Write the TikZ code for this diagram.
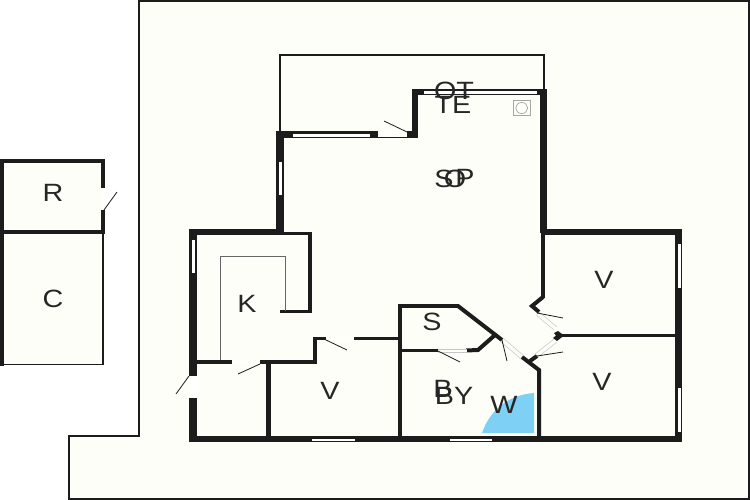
\documentclass[tikz,border=0pt]{standalone}
\usepackage{fontspec}
\setmainfont{Liberation Sans}
\definecolor{cream}{HTML}{FEFEF8}
\definecolor{wallc}{HTML}{1C1C1C}
\definecolor{pool}{HTML}{7FD0F5}
\tikzset{
  wall/.style={fill=wallc,draw=none},
  wl/.style={draw=wallc,line width=#1,line join=miter},
  wl/.default=4pt,
  winrect/.style={fill=white,draw=wallc,line width=0.5pt},
  doorgap/.style={fill=cream!50!white,draw=none},
  doorrail/.style={draw=gray!45,line width=0.5pt},
  leaf/.style={draw=wallc,line width=0.8pt},
  thin/.style={draw=wallc,line width=1.3pt},
  counter/.style={draw=gray!80!black,line width=1pt},
  lab/.style={inner sep=0pt,font=\fontsize{25}{25}\selectfont,text=black!85,xscale=1.15}
}
\begin{document}
\begin{tikzpicture}[x=1pt,y=-1pt]
\useasboundingbox (0,0) rectangle (750,500);
\fill[white] (0,0) rectangle (750,500);
% plot
\draw[fill=cream,draw=wallc,line width=1.2pt] (139,1) -- (749,1) -- (749,499) -- (69,499) -- (69,436) -- (139,436) -- cycle;
% annex
\fill[cream] (2,161) rectangle (103,364);
\draw[thin,line width=1.4pt] (103,232) -- (103,364.5) -- (2,364.5);
\fill[wall] (0,159) rectangle (105,163);
\fill[wall] (0,159) rectangle (4,366);
\fill[wall] (101,159) rectangle (105,233);
\fill[wall] (0,230) rectangle (105,233.5);
\fill[doorgap] (100.5,188) rectangle (105.5,210);
\draw[leaf] (104,210) -- (117,192);
% terrace
\draw[thin] (280,135) -- (280,55) -- (544,55) -- (544,92);
% pool
\fill[pool] (534,393) .. controls (508,395) and (490,410) .. (482,433) -- (534,433) -- cycle;
% main walls
\fill[wall] (412,89) rectangle (418,138);
\fill[wall] (412,89) rectangle (547,95);
\fill[wall] (540,89) rectangle (547,233);
\fill[wall] (541,229) rectangle (545,298);
\fill[wall] (276,131) rectangle (418,138);
\fill[wall] (276,131) rectangle (284,235);
\fill[wall] (189,229) rectangle (284,235);
\fill[wall] (278,232) rectangle (312,235);
\fill[wall] (308,232) rectangle (312,313);
\fill[wall] (280,310) rectangle (312,313);
\fill[wall] (189,229) rectangle (197,442);
\fill[wall] (189,436) rectangle (682,442);
\fill[wall] (197,360) rectangle (317,363.5);
\fill[wall] (313,337) rectangle (317,363);
\fill[wall] (313,337) rectangle (402,340);
\fill[wall] (266,363) rectangle (270.5,438);
\fill[wall] (398,304) rectangle (402,438);
\fill[wall] (398,304) rectangle (459,308);
\fill[wall] (400,349) rectangle (478,352);
\draw[wl=4pt,miter limit=2] (458,306) -- (502,340);
\draw[wl=4pt] (466,350.5) -- (478,350) -- (495,335);
\draw[wl=4pt] (522,357) -- (539,370) -- (539,438);
\draw[wl=4pt] (543,297) -- (532,306) -- (539,312);
\draw[wl=4pt] (530,361) -- (537,356);
\fill[wall] (544,229) rectangle (682,235);
\fill[wall] (675,229) rectangle (682,442);
\fill[wall] (558,334) rectangle (676,337);
\fill[wall] (558,331) -- (564,335.5) -- (557,341) -- (553,338) -- (556,335.5) -- (554,333) -- cycle;
% windows
\draw[winrect] (292,133) rectangle (370,137);
\draw[winrect] (423,90.5) rectangle (537,94);
\draw[winrect] (278,161) rectangle (282,195);
\draw[winrect] (191,239) rectangle (195.5,273);
\draw[winrect] (677,243) rectangle (681,288);
\draw[winrect] (677,387) rectangle (681,432);
\draw[winrect] (311,438) rectangle (355,441);
\draw[winrect] (449,438) rectangle (492,441);
% door gaps
\fill[doorgap] (378,131.5) rectangle (407,137.5);
\draw[leaf] (407,132) -- (384,121);
\fill[doorgap] (188.5,376) rectangle (197.5,398);
\draw[leaf] (189,376) -- (176,394);
\fill[doorgap] (232,360) rectangle (260,363.5);
\draw[leaf] (260,364) -- (238,374);
\fill[doorgap] (326,337) rectangle (354,340);
\draw[leaf] (325,339.5) -- (347,350);
\fill[doorgap] (438,349) rectangle (467,352);
\draw[doorrail] (438,349) -- (467,349) (438,352) -- (467,352);
\draw[leaf] (438,351) -- (460,362);
\draw[doorrail] (503,338) -- (524,356) (500,341) -- (521,359);
\draw[leaf] (502,340) -- (507,361);
\draw[doorrail] (539,312) -- (557,327) (536,315) -- (554,330);
\draw[leaf] (537,313) -- (563,318);
\draw[doorrail] (554,339) -- (535,354) (557,342) -- (538,357);
\draw[leaf] (537,356) -- (563,352);
% counter
\draw[counter] (220,360) -- (220,256) -- (285,256) -- (285,311);
% fixture
\draw[draw=gray!70,line width=0.7pt,fill=cream] (513.5,100.5) rectangle (530,115.5);
\draw[draw=gray!70,line width=0.7pt] (521.7,108) ellipse (6 and 5.5);
% labels
\node[lab] (lotx) at (454,90.5) {OT};
\node[lab] (lte) at (453,104.5) {TE};
\node[lab] (ls) at (444,179) {S};
\node[lab] (lo) at (455,179) {O};
\node[lab] (lp) at (465,178) {P};
\node[lab] (lr) at (53,193) {R};
\node[lab] (lc) at (53,299) {C};
\node[lab] (lk) at (247,304) {K};
\node[lab] (lv1) at (604,280) {V};
\node[lab] (lv2) at (602,382) {V};
\node[lab] (lv3) at (330,391) {V};
\node[lab] (lss) at (432,322) {S};
\node[lab] (lb) at (443,389) {B};
\node[lab] (lby) at (454,396) {BY};
\node[lab] (lw) at (504,405) {W};
\end{tikzpicture}
\end{document}
